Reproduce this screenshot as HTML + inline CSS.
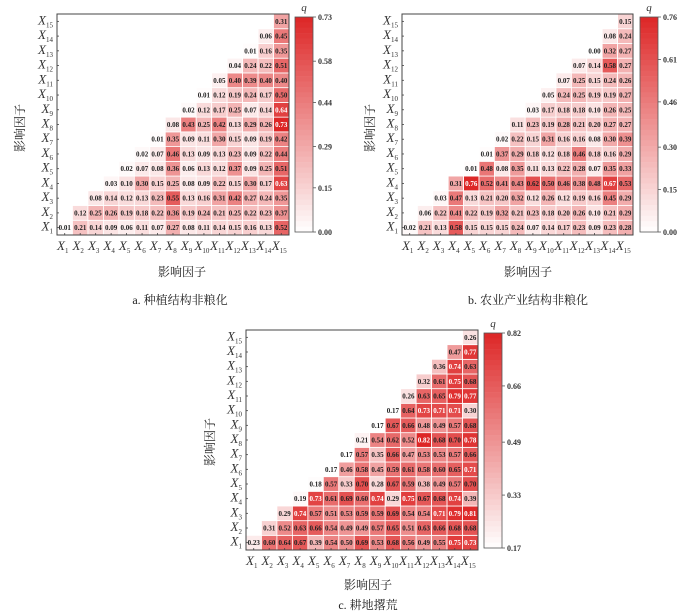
<!DOCTYPE html>
<html><head><meta charset="utf-8">
<style>
html,body{margin:0;padding:0;background:#fff;}
svg{display:block;}
text{font-family:"Liberation Serif","Noto Serif CJK SC",serif;}
.cjk{font-family:"Liberation Serif","Noto Serif CJK SC",serif;font-size:12px;fill:#222;}
</style></head>
<body>
<svg id="chart" width="700" height="613" viewBox="0 0 700 613" xmlns="http://www.w3.org/2000/svg"></svg>
<script>
// Panel a: 种植结构非粮化 — rows X1..X15, each row covers columns Xi..X15
const valuesA = [
[0.01,0.21,0.14,0.09,0.06,0.11,0.07,0.27,0.08,0.11,0.14,0.15,0.16,0.13,0.52],
[0.12,0.25,0.26,0.19,0.18,0.22,0.36,0.19,0.24,0.21,0.25,0.22,0.23,0.37],
[0.08,0.14,0.12,0.13,0.23,0.55,0.13,0.16,0.31,0.42,0.27,0.24,0.35],
[0.03,0.10,0.30,0.15,0.25,0.08,0.09,0.22,0.15,0.30,0.17,0.63],
[0.02,0.07,0.08,0.36,0.06,0.13,0.12,0.37,0.09,0.25,0.51],
[0.02,0.07,0.46,0.13,0.09,0.13,0.23,0.09,0.22,0.44],
[0.01,0.35,0.09,0.11,0.30,0.15,0.09,0.19,0.42],
[0.08,0.43,0.25,0.42,0.13,0.29,0.26,0.73],
[0.02,0.12,0.17,0.25,0.07,0.14,0.64],
[0.01,0.12,0.19,0.24,0.17,0.50],
[0.05,0.40,0.39,0.40,0.40],
[0.04,0.24,0.22,0.51],
[0.01,0.16,0.35],
[0.06,0.45],
[0.31]
];
// Panel b: 农业产业结构非粮化
const valuesB = [
[0.02,0.21,0.13,0.58,0.15,0.15,0.15,0.24,0.07,0.14,0.17,0.23,0.09,0.23,0.28],
[0.06,0.22,0.41,0.22,0.19,0.32,0.21,0.23,0.18,0.20,0.26,0.10,0.21,0.29],
[0.03,0.47,0.13,0.21,0.20,0.32,0.12,0.26,0.12,0.19,0.16,0.45,0.29],
[0.31,0.76,0.52,0.41,0.43,0.62,0.50,0.46,0.38,0.48,0.67,0.53],
[0.01,0.48,0.08,0.35,0.11,0.13,0.22,0.28,0.07,0.35,0.33],
[0.01,0.37,0.29,0.18,0.12,0.18,0.46,0.18,0.16,0.29],
[0.02,0.22,0.15,0.31,0.16,0.16,0.08,0.30,0.39],
[0.11,0.23,0.19,0.28,0.21,0.20,0.27,0.27],
[0.03,0.17,0.18,0.18,0.10,0.26,0.25],
[0.05,0.24,0.25,0.19,0.19,0.27],
[0.07,0.25,0.15,0.24,0.26],
[0.07,0.14,0.58,0.27],
[0.00,0.32,0.27],
[0.08,0.24],
[0.15]
];
// Panel c: 耕地撂荒
const valuesC = [
[0.23,0.60,0.64,0.67,0.39,0.54,0.50,0.69,0.53,0.68,0.56,0.49,0.55,0.75,0.73],
[0.31,0.52,0.63,0.66,0.54,0.49,0.49,0.57,0.65,0.51,0.63,0.66,0.68,0.68],
[0.29,0.74,0.57,0.51,0.53,0.59,0.59,0.69,0.54,0.54,0.71,0.79,0.81],
[0.19,0.73,0.61,0.69,0.60,0.74,0.29,0.75,0.67,0.68,0.74,0.39],
[0.18,0.57,0.33,0.70,0.28,0.67,0.59,0.38,0.49,0.57,0.70],
[0.17,0.46,0.58,0.45,0.59,0.61,0.58,0.60,0.65,0.71],
[0.17,0.57,0.35,0.66,0.47,0.53,0.53,0.57,0.66],
[0.21,0.54,0.62,0.52,0.82,0.68,0.70,0.78],
[0.17,0.67,0.66,0.48,0.49,0.57,0.68],
[0.17,0.64,0.73,0.71,0.71,0.30],
[0.26,0.63,0.65,0.79,0.77],
[0.32,0.61,0.75,0.68],
[0.36,0.74,0.63],
[0.47,0.77],
[0.26]
];
const factorIndex = [1,2,3,4,5,6,7,8,9,10,11,12,13,14,15];
const ticksA = [0.73,0.58,0.44,0.29,0.15,0.00];
const ticksB = [0.76,0.61,0.46,0.30,0.15,0.00];
const ticksC = [0.82,0.66,0.49,0.33,0.17];
const rangeA = [0.00,0.73];
const rangeB = [0.00,0.76];
const rangeC = [0.17,0.82];

const NS = "http://www.w3.org/2000/svg";
const svg = document.getElementById('chart');
function mk(tag, attrs, parent){
  const e = document.createElementNS(NS, tag);
  for (const k in attrs) e.setAttribute(k, attrs[k]);
  (parent||svg).appendChild(e);
  return e;
}
function colorFor(t){
  t = Math.max(0, Math.min(1, t));
  const r = Math.round(255 + (221-255)*t);
  const g = Math.round(255 + (38-255)*t);
  const b = Math.round(255 + (38-255)*t);
  return `rgb(${r},${g},${b})`;
}
function xLabel(parent, x, y, i, anchor){
  const t = mk('text', {x:x, y:y, 'text-anchor':anchor, 'font-size':13, 'font-style':'italic', fill:'#333'}, parent);
  t.textContent = 'X';
  const s = document.createElementNS(NS,'tspan');
  s.setAttribute('font-size', 7); s.setAttribute('font-style','normal'); s.setAttribute('dy', 3);
  s.textContent = String(i);
  t.appendChild(s);
  return t;
}
function panel(cfg){
  const g = mk('g', {});
  
  
  const n = factorIndex.length;
  const cw = (cfg.x1 - cfg.x0)/n, ch = (cfg.y1 - cfg.y0)/n;
  const xs = c => cfg.x0 + c*cw;
  const ys = r => cfg.y1 - (r+1)*ch;
  const norm = v => (v - cfg.range[0])/(cfg.range[1]-cfg.range[0]);
  cfg.values.forEach((row, r) => {
    row.forEach((v, k) => {
      const c = r + k;
      const cell = mk('rect', {x:xs(c), y:ys(r), width:cw, height:ch, fill:colorFor(norm(v)), stroke:'#fff', 'stroke-width':0.8}, g);
      
      
      const tx = mk('text', {x:xs(c)+cw/2, y:ys(r)+ch/2+2.5, 'text-anchor':'middle', 'font-size':7, 'font-weight':'bold', fill: norm(v) > 0.82 ? '#fff' : '#222'}, g);
      
      
      tx.textContent = v.toFixed(2);
    });
  });
  const frame = mk('rect', {x:cfg.x0, y:cfg.y0, width:cfg.x1-cfg.x0, height:cfg.y1-cfg.y0, fill:'none', stroke:'#444', 'stroke-width':1}, g);
  
  
  factorIndex.forEach((f, i) => {
    const yl = xLabel(g, cfg.x0 - 4, ys(i)+ch/2+3, f, 'end');
    
    
    const xl = xLabel(g, xs(i)+cw/2 - 2, cfg.y1 + 15, f, 'middle');
    
    
    mk('line', {x1:cfg.x0, x2:cfg.x0+2, y1:ys(i)+ch/2, y2:ys(i)+ch/2, stroke:'#444', 'stroke-width':0.8}, g);
    mk('line', {x1:xs(i)+cw/2, x2:xs(i)+cw/2, y1:cfg.y1, y2:cfg.y1-2, stroke:'#444', 'stroke-width':0.8}, g);
  });
  const cb = mk('g', {}, g);
  
  
  const steps = 40, bh = (cfg.cb.y1 - cfg.cb.y0)/steps;
  for (let s=0; s<steps; s++){
    mk('rect', {x:cfg.cb.x0, y:cfg.cb.y0 + s*bh, width:cfg.cb.x1-cfg.cb.x0, height:bh+0.3, fill:colorFor(1 - (s+0.5)/steps)}, cb);
  }
  mk('rect', {x:cfg.cb.x0, y:cfg.cb.y0, width:cfg.cb.x1-cfg.cb.x0, height:cfg.cb.y1-cfg.cb.y0, fill:'none', stroke:'#555', 'stroke-width':0.8}, cb);
  const lo = cfg.ticks[cfg.ticks.length-1], hi = cfg.ticks[0];
  cfg.ticks.forEach(tv => {
    const ty = cfg.cb.y1 - (tv-lo)/(hi-lo)*(cfg.cb.y1-cfg.cb.y0);
    mk('line', {x1:cfg.cb.x1, x2:cfg.cb.x1+3, y1:ty, y2:ty, stroke:'#555', 'stroke-width':0.8}, cb);
    const tl = mk('text', {x:cfg.cb.x1+5, y:ty+3, 'font-size':8, 'font-weight':'bold', fill:'#333'}, cb);
    
    
    tl.textContent = tv.toFixed(2);
  });
  const q = mk('text', {x:(cfg.cb.x0+cfg.cb.x1)/2, y:cfg.cb.y0-6, 'text-anchor':'middle', 'font-size':11, 'font-style':'italic', fill:'#333'}, cb);
  
  
  q.textContent = 'q';
  const yt = mk('text', {class:'cjk', transform:`translate(${cfg.yt[0]},${cfg.yt[1]}) rotate(-90)`, 'text-anchor':'middle'}, g);
  
  
  yt.textContent = '影响因子';
  const xt = mk('text', {class:'cjk', x:cfg.xt[0], y:cfg.xt[1], 'text-anchor':'middle'}, g);
  
  
  xt.textContent = '影响因子';
  const cap = mk('text', {class:'cjk', x:cfg.cap[0], y:cfg.cap[1], 'text-anchor':'middle'}, g);
  
  
  cap.textContent = cfg.caption;
}
panel({name:'panel-a', values:valuesA, range:rangeA, ticks:ticksA, x0:57, x1:289, y0:14, y1:235,
  cb:{x0:295,x1:313,y0:17,y1:232}, yt:[24,128], xt:[182,276], cap:[180,304], caption:'a.  种植结构非粮化'});
panel({name:'panel-b', values:valuesB, range:rangeB, ticks:ticksB, x0:402, x1:633, y0:14, y1:235,
  cb:{x0:640,x1:658,y0:17,y1:232}, yt:[374,128], xt:[528,276], cap:[528,304], caption:'b.  农业产业结构非粮化'});
panel({name:'panel-c', values:valuesC, range:rangeC, ticks:ticksC, x0:246, x1:478, y0:330, y1:550,
  cb:{x0:484,x1:502,y0:333,y1:548}, yt:[214,442], xt:[368,589], cap:[368,609], caption:'c.  耕地撂荒'});
</script>
</body></html>
